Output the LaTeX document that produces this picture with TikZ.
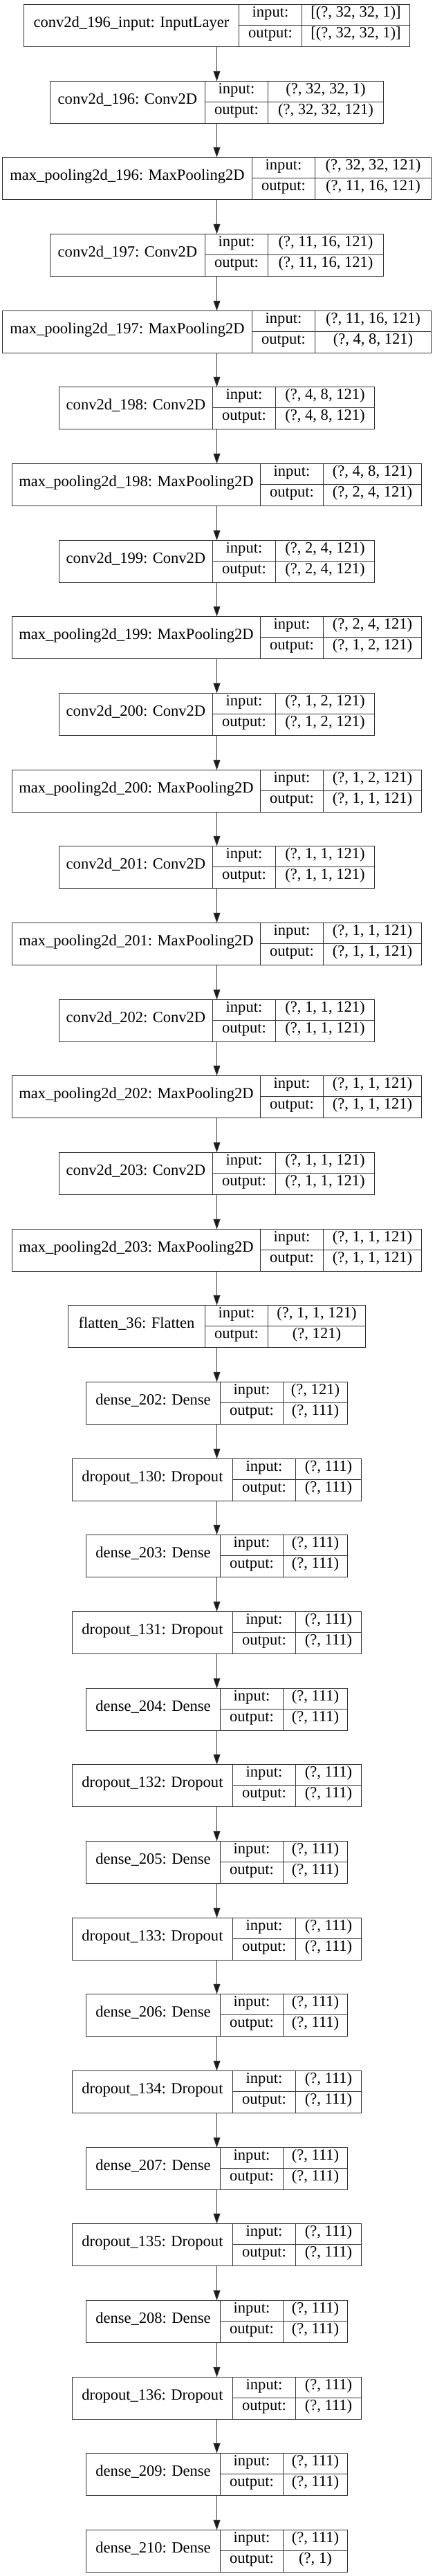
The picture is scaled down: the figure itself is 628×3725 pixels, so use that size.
\documentclass[tikz,border=0pt]{standalone}
\usepackage{fontspec}
\setmainfont{Liberation Serif}
\usetikzlibrary{arrows.meta}

\tikzset{
  cell/.style={inner sep=0pt, outer sep=0pt, anchor=north west,
    text height=0.6em, text depth=0.22em},
  layerbox/.style={draw=black!80, line width=0.75pt, inner sep=0pt, outer sep=0pt,
    anchor=north west, minimum height=45.75pt},
  rule/.style={draw=black!80, line width=0.75pt},
  edge/.style={draw=black!80, line width=0.75pt,
    -{Triangle[length=11pt,width=7.5pt,fill=black!90]}},
}

% one keras layer: id, row, name width, value width, name, input, output
\newcommand{\layer}[7]{%
  \pgfmathsetmacro{\lyrw}{#3+91+#4}
  \pgfmathsetmacro{\lyrx}{313.5-\lyrw/2}
  \pgfmathsetmacro{\lyry}{round(6+#2*110.67)+0.5}
  \node[layerbox, minimum width=\lyrw*0.75pt] (#1) at (\lyrx,\lyry) {};
  \node[cell, minimum width=#3*0.75pt, minimum height=45.75pt] (#1-name) at (\lyrx,\lyry) {#5};
  \node[cell, minimum width=68.25pt, minimum height=22.5pt] (#1-inl) at (#1-name.north east) {input:};
  \node[cell, minimum width=68.25pt, minimum height=23.25pt] (#1-outl) at (#1-inl.south west) {output:};
  \node[cell, minimum width=#4*0.75pt, minimum height=22.5pt] (#1-inv) at (#1-inl.north east) {#6};
  \node[cell, minimum width=#4*0.75pt, minimum height=23.25pt] (#1-outv) at (#1-outl.north east) {#7};
  \draw[rule] (#1-name.north east) -- (#1-name.south east);
  \draw[rule] (#1-inv.north west) -- (#1-outv.south west);
  \draw[rule] (#1-inl.south west) -- (#1-inv.south east);
}

\begin{document}
\begin{tikzpicture}[x=0.75pt, y=-0.75pt, font=\fontsize{16.9}{19}\selectfont]
  \useasboundingbox (0,0) rectangle (628,3725);

  \layer{inp}{0}{311}{156}{conv2d\_196\_input: InputLayer}{[(?, 32, 32, 1)]}{[(?, 32, 32, 1)]}
  \layer{conv196}{1}{224}{167}{conv2d\_196: Conv2D}{(?, 32, 32, 1)}{(?, 32, 32, 121)}
  \layer{pool196}{2}{361}{168}{max\_pooling2d\_196: MaxPooling2D}{(?, 32, 32, 121)}{(?, 11, 16, 121)}
  \layer{conv197}{3}{224}{167}{conv2d\_197: Conv2D}{(?, 11, 16, 121)}{(?, 11, 16, 121)}
  \layer{pool197}{4}{361}{168}{max\_pooling2d\_197: MaxPooling2D}{(?, 11, 16, 121)}{(?, 4, 8, 121)}
  \layer{conv198}{5}{222}{143}{conv2d\_198: Conv2D}{(?, 4, 8, 121)}{(?, 4, 8, 121)}
  \layer{pool198}{6}{359}{142}{max\_pooling2d\_198: MaxPooling2D}{(?, 4, 8, 121)}{(?, 2, 4, 121)}
  \layer{conv199}{7}{222}{143}{conv2d\_199: Conv2D}{(?, 2, 4, 121)}{(?, 2, 4, 121)}
  \layer{pool199}{8}{359}{142}{max\_pooling2d\_199: MaxPooling2D}{(?, 2, 4, 121)}{(?, 1, 2, 121)}
  \layer{conv200}{9}{222}{143}{conv2d\_200: Conv2D}{(?, 1, 2, 121)}{(?, 1, 2, 121)}
  \layer{pool200}{10}{359}{142}{max\_pooling2d\_200: MaxPooling2D}{(?, 1, 2, 121)}{(?, 1, 1, 121)}
  \layer{conv201}{11}{222}{143}{conv2d\_201: Conv2D}{(?, 1, 1, 121)}{(?, 1, 1, 121)}
  \layer{pool201}{12}{359}{142}{max\_pooling2d\_201: MaxPooling2D}{(?, 1, 1, 121)}{(?, 1, 1, 121)}
  \layer{conv202}{13}{222}{143}{conv2d\_202: Conv2D}{(?, 1, 1, 121)}{(?, 1, 1, 121)}
  \layer{pool202}{14}{359}{142}{max\_pooling2d\_202: MaxPooling2D}{(?, 1, 1, 121)}{(?, 1, 1, 121)}
  \layer{conv203}{15}{222}{143}{conv2d\_203: Conv2D}{(?, 1, 1, 121)}{(?, 1, 1, 121)}
  \layer{pool203}{16}{359}{142}{max\_pooling2d\_203: MaxPooling2D}{(?, 1, 1, 121)}{(?, 1, 1, 121)}
  \layer{flat36}{17}{198}{141}{flatten\_36: Flatten}{(?, 1, 1, 121)}{(?, 121)}
  \layer{dense202}{18}{194}{93}{dense\_202: Dense}{(?, 121)}{(?, 111)}
  \layer{drop130}{19}{232}{95}{dropout\_130: Dropout}{(?, 111)}{(?, 111)}
  \layer{dense203}{20}{194}{93}{dense\_203: Dense}{(?, 111)}{(?, 111)}
  \layer{drop131}{21}{232}{95}{dropout\_131: Dropout}{(?, 111)}{(?, 111)}
  \layer{dense204}{22}{194}{93}{dense\_204: Dense}{(?, 111)}{(?, 111)}
  \layer{drop132}{23}{232}{95}{dropout\_132: Dropout}{(?, 111)}{(?, 111)}
  \layer{dense205}{24}{194}{93}{dense\_205: Dense}{(?, 111)}{(?, 111)}
  \layer{drop133}{25}{232}{95}{dropout\_133: Dropout}{(?, 111)}{(?, 111)}
  \layer{dense206}{26}{194}{93}{dense\_206: Dense}{(?, 111)}{(?, 111)}
  \layer{drop134}{27}{232}{95}{dropout\_134: Dropout}{(?, 111)}{(?, 111)}
  \layer{dense207}{28}{194}{93}{dense\_207: Dense}{(?, 111)}{(?, 111)}
  \layer{drop135}{29}{232}{95}{dropout\_135: Dropout}{(?, 111)}{(?, 111)}
  \layer{dense208}{30}{194}{93}{dense\_208: Dense}{(?, 111)}{(?, 111)}
  \layer{drop136}{31}{232}{95}{dropout\_136: Dropout}{(?, 111)}{(?, 111)}
  \layer{dense209}{32}{194}{93}{dense\_209: Dense}{(?, 111)}{(?, 111)}
  \layer{dense210}{33}{194}{93}{dense\_210: Dense}{(?, 111)}{(?, 1)}

  % edges
  \foreach \a/\b in {inp/conv196, conv196/pool196, pool196/conv197, conv197/pool197,
      pool197/conv198, conv198/pool198, pool198/conv199, conv199/pool199,
      pool199/conv200, conv200/pool200, pool200/conv201, conv201/pool201,
      pool201/conv202, conv202/pool202, pool202/conv203, conv203/pool203,
      pool203/flat36, flat36/dense202, dense202/drop130, drop130/dense203,
      dense203/drop131, drop131/dense204, dense204/drop132, drop132/dense205,
      dense205/drop133, drop133/dense206, dense206/drop134, drop134/dense207,
      dense207/drop135, drop135/dense208, dense208/drop136, drop136/dense209,
      dense209/dense210}
    \draw[edge] (\a.south) -- (\b.north);
\end{tikzpicture}
\end{document}
